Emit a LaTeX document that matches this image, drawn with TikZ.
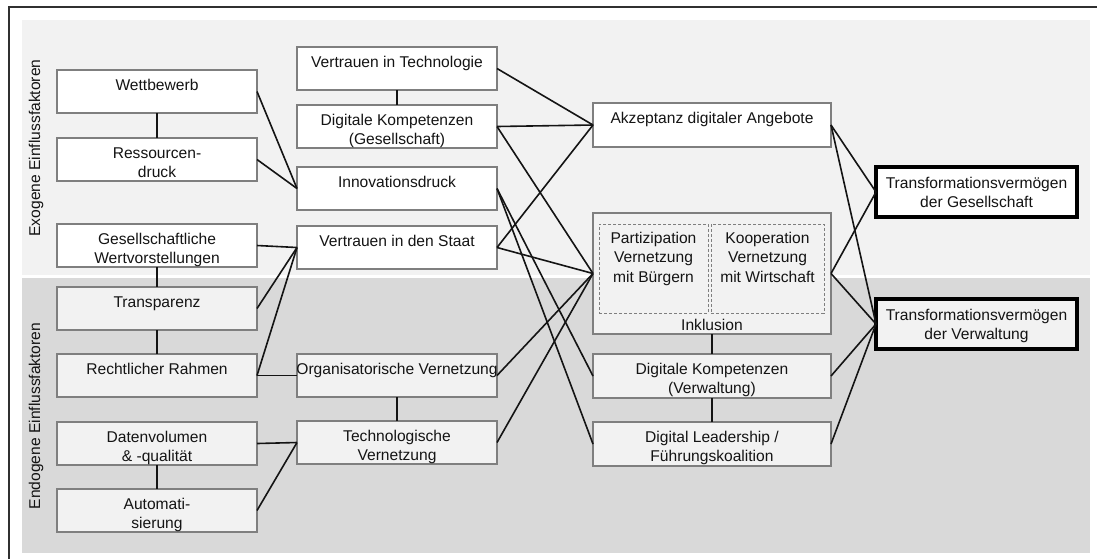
\documentclass[tikz,border=0pt]{standalone}
\usepackage{fontspec}
\setmainfont{Liberation Sans}
\definecolor{bandlight}{HTML}{F2F2F2}
\definecolor{banddark}{HTML}{D9D9D9}
\definecolor{boxline}{HTML}{7F7F7F}
\definecolor{frameline}{HTML}{303030}
\definecolor{ink}{HTML}{141414}
\newcommand\bt[4][10pt]{\parbox[c][#3][t]{#2}{\centering\fontsize{7.8pt}{9.75pt}\selectfont\rule{0pt}{#1}#4\par}}
\begin{document}
\begin{tikzpicture}[x=0.5pt,y=-0.5pt,
  box/.style={draw=boxline, line width=0.7pt, fill=white, inner sep=0pt, outer sep=0pt, anchor=north west, text=ink},
  boxd/.style={box, fill=bandlight},
  outbox/.style={box, draw=black, line width=1.6pt},
  dbox/.style={box, fill=none, line width=0.5pt, dash pattern=on 1.5pt off 1pt},
  conn/.style={draw=ink, line width=0.8pt},
  side/.style={rotate=90, font=\fontsize{7.8pt}{9pt}\selectfont, text=ink, inner sep=0pt}]
\useasboundingbox (0,0) rectangle (1097,559);
\fill[white] (0,0) rectangle (1097,559);
\fill[bandlight] (22,20) rectangle (1090,274.5);
\fill[banddark] (22,277.5) rectangle (1090,553);
\draw[frameline, line width=0.9pt] (9,559) -- (9,7) -- (1097,7);

\node[side] (exo) at (36,148) {Exogene Einflussfaktoren};
\node[side] (endo) at (36,416) {Endogene Einflussfaktoren};

% left column
\node[box]  (wett)  at (57,70)  {\bt{100pt}{21.5pt}{Wettbewerb}};
\node[box]  (ress)  at (57,138) {\bt{100pt}{21.5pt}{Ressourcen-\\druck}};
\node[box]  (gesw)  at (57,224) {\bt{100pt}{21.5pt}{Gesellschaftliche\\Wertvorstellungen}};
\node[boxd] (trans) at (57,287) {\bt{100pt}{21.5pt}{Transparenz}};
\node[boxd] (recht) at (57,354) {\bt{100pt}{21.5pt}{Rechtlicher Rahmen}};
\node[boxd] (daten) at (57,422) {\bt{100pt}{21.5pt}{Datenvolumen\\\& -qualität}};
\node[boxd] (auto)  at (57,489) {\bt{100pt}{21.5pt}{Automati-\\sierung}};

% middle column
\node[box]  (vtech)  at (297,47)  {\bt{100pt}{21.5pt}{Vertrauen in Technologie}};
\node[box]  (dkg)    at (297,105) {\bt{100pt}{21.5pt}{Digitale Kompetenzen\\(Gesellschaft)}};
\node[box]  (innov)  at (297,167) {\bt{100pt}{21.5pt}{Innovationsdruck}};
\node[box]  (vstaat) at (297,226) {\bt{100pt}{21.5pt}{Vertrauen in den Staat}};
\node[boxd] (org)    at (297,354) {\bt{100pt}{21.5pt}{\makebox[0pt]{Organisatorische Vernetzung}}};
\node[boxd] (techv)  at (297,421) {\bt{100pt}{21.5pt}{Technologische\\Vernetzung}};

% right-middle column
\node[box]  (akz)  at (593,103) {\bt{119pt}{22pt}{Akzeptanz digitaler Angebote}};
\node[boxd] (inkl) at (593,213) {\parbox[c][60.5pt][t]{119pt}{\mbox{}}};
\node[dbox] (part) at (599,224) {\bt[9.5pt]{54.5pt}{44.5pt}{Partizipation\\Vernetzung\\mit Bürgern}};
\node[dbox] (koop) at (711,224) {\bt[9.5pt]{56.5pt}{44.5pt}{Kooperation\\Vernetzung\\mit Wirtschaft}};
\node[anchor=base, text=ink, font=\fontsize{7.8pt}{9pt}\selectfont, inner sep=0pt] (inkllab) at (712,330) {Inklusion};
\node[boxd] (dkv) at (593,354) {\bt{119pt}{22pt}{Digitale Kompetenzen\\(Verwaltung)}};
\node[boxd] (dl)  at (593,422) {\bt{119pt}{22pt}{Digital Leadership /\\Führungskoalition}};

% outputs
\node[outbox] (tg) at (876,167) {\bt[10.5pt]{100.5pt}{25pt}{Transformationsvermögen\\der Gesellschaft}};
\node[outbox, fill=bandlight] (tv) at (876,299) {\bt[10.5pt]{100.5pt}{25pt}{Transformationsvermögen\\der Verwaltung}};

% vertical connectors
\draw[conn] (wett.south) -- (ress.north);
\draw[conn] (gesw.south) -- (trans.north);
\draw[conn] (trans.south) -- (recht.north);
\draw[conn] (daten.south) -- (auto.north);
\draw[conn] (vtech.south) -- (dkg.north);
\draw[conn] (org.south) -- (techv.north);
\draw[conn] (inkl.south) -- (dkv.north);
\draw[conn] (dkv.south) -- (dl.north);

% left -> middle
\draw[conn] (wett.east) -- (innov.west);
\draw[conn] (ress.east) -- (innov.west);
\draw[conn] (gesw.east) -- (vstaat.west);
\draw[conn] (trans.east) -- (vstaat.west);
\draw[conn] (recht.east) -- (vstaat.west);
\draw[conn] (recht.east) -- (org.west);
\draw[conn] (daten.east) -- (techv.west);
\draw[conn] (auto.east) -- (techv.west);

% middle -> right-middle
\draw[conn] (vtech.east) -- (akz.west);
\draw[conn] (dkg.east) -- (akz.west);
\draw[conn] (vstaat.east) -- (akz.west);
\draw[conn] (dkg.east) -- (inkl.west);
\draw[conn] (vstaat.east) -- (inkl.west);
\draw[conn] (org.east) -- (inkl.west);
\draw[conn] (techv.east) -- (inkl.west);
\draw[conn] (innov.east) -- (dkv.west);
\draw[conn] (innov.east) -- (dl.west);

% right-middle -> outputs
\draw[conn] (akz.east) -- (tg.west);
\draw[conn] (akz.east) -- (tv.west);
\draw[conn] (inkl.east) -- (tg.west);
\draw[conn] (inkl.east) -- (tv.west);
\draw[conn] (dkv.east) -- (tv.west);
\draw[conn] (dl.east) -- (tv.west);
\end{tikzpicture}
\end{document}
